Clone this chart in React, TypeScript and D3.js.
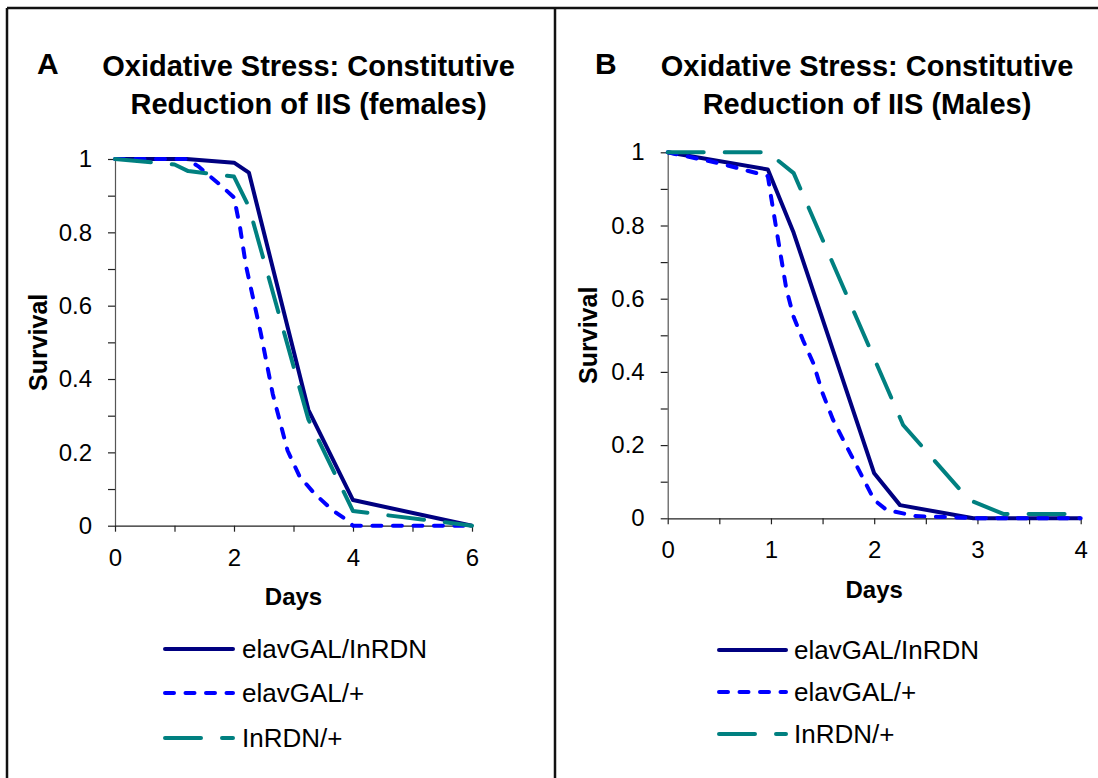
import React, { useRef, useEffect } from "react";
import * as d3 from "d3";

// Legend / series names
const seriesNames = ["elavGAL/InRDN", "elavGAL/+", "InRDN/+"];

// Panel A: females (days, survival)
const femaleInrdnDays = [0, 1.2, 2.0, 2.25, 3.25, 4.0, 6];
const femaleInrdnSurv = [1, 1, 0.99, 0.963, 0.316, 0.07, 0];
const femaleElavDays = [0, 1.2, 1.4, 1.8, 2.0, 2.1, 2.2, 2.45, 2.65, 2.9, 3.1, 3.35, 3.65, 3.9, 4.0, 6];
const femaleElavSurv = [1, 1, 0.98, 0.925, 0.895, 0.815, 0.71, 0.525, 0.36, 0.205, 0.135, 0.088, 0.043, 0.015, 0, 0];
const femaleCtrlDays = [0, 1.0, 1.23, 2.0, 2.25, 3.25, 4.0, 6];
const femaleCtrlSurv = [1, 0.985, 0.967, 0.952, 0.87, 0.29, 0.04, 0];

// Panel B: males
const maleInrdnDays = [0, 0.97, 1.22, 2.0, 2.25, 2.96, 4];
const maleInrdnSurv = [1, 0.953, 0.78, 0.123, 0.036, 0, 0];
const maleElavDays = [0, 0.5, 0.97, 1.0, 1.07, 1.15, 1.22, 1.31, 1.41, 1.5, 1.6, 1.7, 1.8, 1.9, 2.0, 2.12, 2.4, 2.75, 3, 4];
const maleElavSurv = [1, 0.97, 0.935, 0.88, 0.76, 0.625, 0.55, 0.487, 0.424, 0.342, 0.27, 0.214, 0.16, 0.105, 0.05, 0.023, 0.006, 0.003, 0, 0];
const maleCtrlDays = [0, 0.97, 1.22, 2.28, 2.92, 3.25, 4];
const maleCtrlSurv = [1, 1, 0.943, 0.255, 0.05, 0.012, 0.012];

const yTicks = [0, 0.1, 0.2, 0.3, 0.4, 0.5, 0.6, 0.7, 0.8, 0.9, 1];
const yLabels = [0, 0.2, 0.4, 0.6, 0.8, 1];

const FONT = "'Liberation Sans', Arial, sans-serif";

const lineStyles = [
  { color: "#000080", dash: "none" },
  { color: "#0000ff", dash: "9 11.5" },
  { color: "#008080", dash: "36 21" },
];

interface Panel {
  letter: string;
  letterX: number;
  title: string[];
  titleX: number;
  x0: number;
  x1: number;
  yTop: number;
  yBottom: number;
  xMax: number;
  xTicks: number[];
  xLabels: number[];
  yLabelX: number;
  daysY: number;
  legendX1: number;
  legendX2: number;
  legendTextX: number;
  legendRows: number[];
  series: { days: number[]; surv: number[] }[];
}

const panels: Panel[] = [
  {
    letter: "A",
    letterX: 37,
    title: ["Oxidative Stress: Constitutive", "Reduction of IIS (females)"],
    titleX: 308.5,
    x0: 115,
    x1: 472,
    yTop: 159,
    yBottom: 525.7,
    xMax: 6,
    xTicks: [0, 1, 2, 3, 4, 5, 6],
    xLabels: [0, 2, 4, 6],
    yLabelX: 47,
    daysY: 605,
    legendX1: 163,
    legendX2: 235,
    legendTextX: 242,
    legendRows: [649, 693, 738],
    series: [
      { days: femaleInrdnDays, surv: femaleInrdnSurv },
      { days: femaleElavDays, surv: femaleElavSurv },
      { days: femaleCtrlDays, surv: femaleCtrlSurv },
    ],
  },
  {
    letter: "B",
    letterX: 595,
    title: ["Oxidative Stress: Constitutive", "Reduction of IIS (Males)"],
    titleX: 867,
    x0: 667.7,
    x1: 1080.7,
    yTop: 152.3,
    yBottom: 518.3,
    xMax: 4,
    xTicks: [0, 0.5, 1, 1.5, 2, 2.5, 3, 3.5, 4],
    xLabels: [0, 1, 2, 3, 4],
    yLabelX: 597,
    daysY: 598,
    legendX1: 717,
    legendX2: 788,
    legendTextX: 794,
    legendRows: [650, 692, 734],
    series: [
      { days: maleInrdnDays, surv: maleInrdnSurv },
      { days: maleElavDays, surv: maleElavSurv },
      { days: maleCtrlDays, surv: maleCtrlSurv },
    ],
  },
];

const SurvivalFigure: React.FC = () => {
  const ref = useRef<SVGSVGElement | null>(null);

  useEffect(() => {
    const svg = d3.select(ref.current);
    svg.selectAll("*").remove();

    // frame
    svg.append("rect").attr("width", 1098).attr("height", 778).attr("fill", "#fff");
    const frame = svg.append("g").attr("stroke", "#111").attr("stroke-width", 2.5);
    frame.append("line").attr("x1", 7).attr("x2", 1098).attr("y1", 8).attr("y2", 8);
    frame.append("line").attr("x1", 7).attr("x2", 7).attr("y1", 8).attr("y2", 778);
    frame.append("line").attr("x1", 555).attr("x2", 555).attr("y1", 8).attr("y2", 778);

    panels.forEach((p) => {
      const g = svg.append("g").style("font-family", FONT);
      const x = d3.scaleLinear().domain([0, p.xMax]).range([p.x0, p.x1]);
      const y = d3.scaleLinear().domain([0, 1]).range([p.yBottom, p.yTop]);

      // letter + title
      g.append("text")
        .attr("x", p.letterX)
        .attr("y", 74)
        .attr("font-size", 30)
        .attr("font-weight", "bold")
        .text(p.letter);
      p.title.forEach((t, i) => {
        g.append("text")
          .attr("x", p.titleX)
          .attr("y", 76 + i * 37.5)
          .attr("text-anchor", "middle")
          .attr("font-size", 29)
          .attr("font-weight", "bold")
          .text(t);
      });

      // axes
      const yAxis = g
        .append("g")
        .attr("transform", `translate(${p.x0},0)`)
        .call(
          d3
            .axisLeft(y)
            .tickValues(yTicks)
            .tickSizeInner(7)
            .tickSizeOuter(0)
            .tickPadding(16)
            .tickFormat((d) => (yLabels.some((v) => Math.abs(v - +d) < 1e-9) ? d3.format("~g")(+d) : "")) as any,
        );
      yAxis.select(".domain").attr("stroke", "#555").attr("stroke-width", 1.2);
      yAxis.selectAll(".tick line").attr("stroke", "#222").attr("stroke-width", 1.2);
      yAxis.selectAll("text").attr("font-size", 24).attr("font-family", FONT).attr("fill", "#000");

      const xAxis = g
        .append("g")
        .attr("transform", `translate(0,${p.yBottom})`)
        .call(
          d3
            .axisBottom(x)
            .tickValues(p.xTicks)
            .tickSizeInner(6)
            .tickSizeOuter(0)
            .tickPadding(17)
            .tickFormat((d) => (p.xLabels.includes(+d) ? d3.format("d")(+d) : "")) as any,
        );
      xAxis.select(".domain").attr("stroke", "#222").attr("stroke-width", 1.2);
      xAxis.selectAll(".tick line").attr("stroke", "#222").attr("stroke-width", 1.2);
      xAxis.selectAll("text").attr("font-size", 24).attr("font-family", FONT).attr("fill", "#000");

      // axis titles
      g.append("text")
        .attr("x", (p.x0 + p.x1) / 2)
        .attr("y", p.daysY)
        .attr("text-anchor", "middle")
        .attr("font-size", 24)
        .attr("font-weight", "bold")
        .text("Days");
      g.append("text")
        .attr("transform", `translate(${p.yLabelX},${(p.yTop + p.yBottom) / 2}) rotate(-90)`)
        .attr("text-anchor", "middle")
        .attr("font-size", 25)
        .attr("font-weight", "bold")
        .text("Survival");

      // lines
      const line = d3
        .line<[number, number]>()
        .x((d) => x(d[0]))
        .y((d) => y(d[1]));
      p.series.forEach((s, i) => {
        const pts = s.days.map((d, j) => [d, s.surv[j]] as [number, number]);
        g.append("path")
          .datum(pts)
          .attr("fill", "none")
          .attr("stroke", lineStyles[i].color)
          .attr("stroke-width", 4)
          .attr("stroke-linecap", i === 0 ? "butt" : "round")
          .attr("stroke-linejoin", "round")
          .attr("stroke-dasharray", lineStyles[i].dash)
          .attr("d", line);
      });

      // legend
      seriesNames.forEach((name, i) => {
        const ly = p.legendRows[i];
        g.append("line")
          .attr("x1", p.legendX1 + 2)
          .attr("x2", p.legendX2 - 2)
          .attr("y1", ly)
          .attr("y2", ly)
          .attr("stroke", lineStyles[i].color)
          .attr("stroke-width", 4)
          .attr("stroke-linecap", "round")
          .attr("stroke-dasharray", lineStyles[i].dash);
        g.append("text")
          .attr("x", p.legendTextX)
          .attr("y", ly + 9)
          .attr("font-size", 26)
          .text(name);
      });
    });
  }, []);

  return <svg ref={ref} width={1098} height={778} style={{ position: "absolute", left: 0, top: 0 }} />;
};

export default function App() {
  return <SurvivalFigure />;
}
